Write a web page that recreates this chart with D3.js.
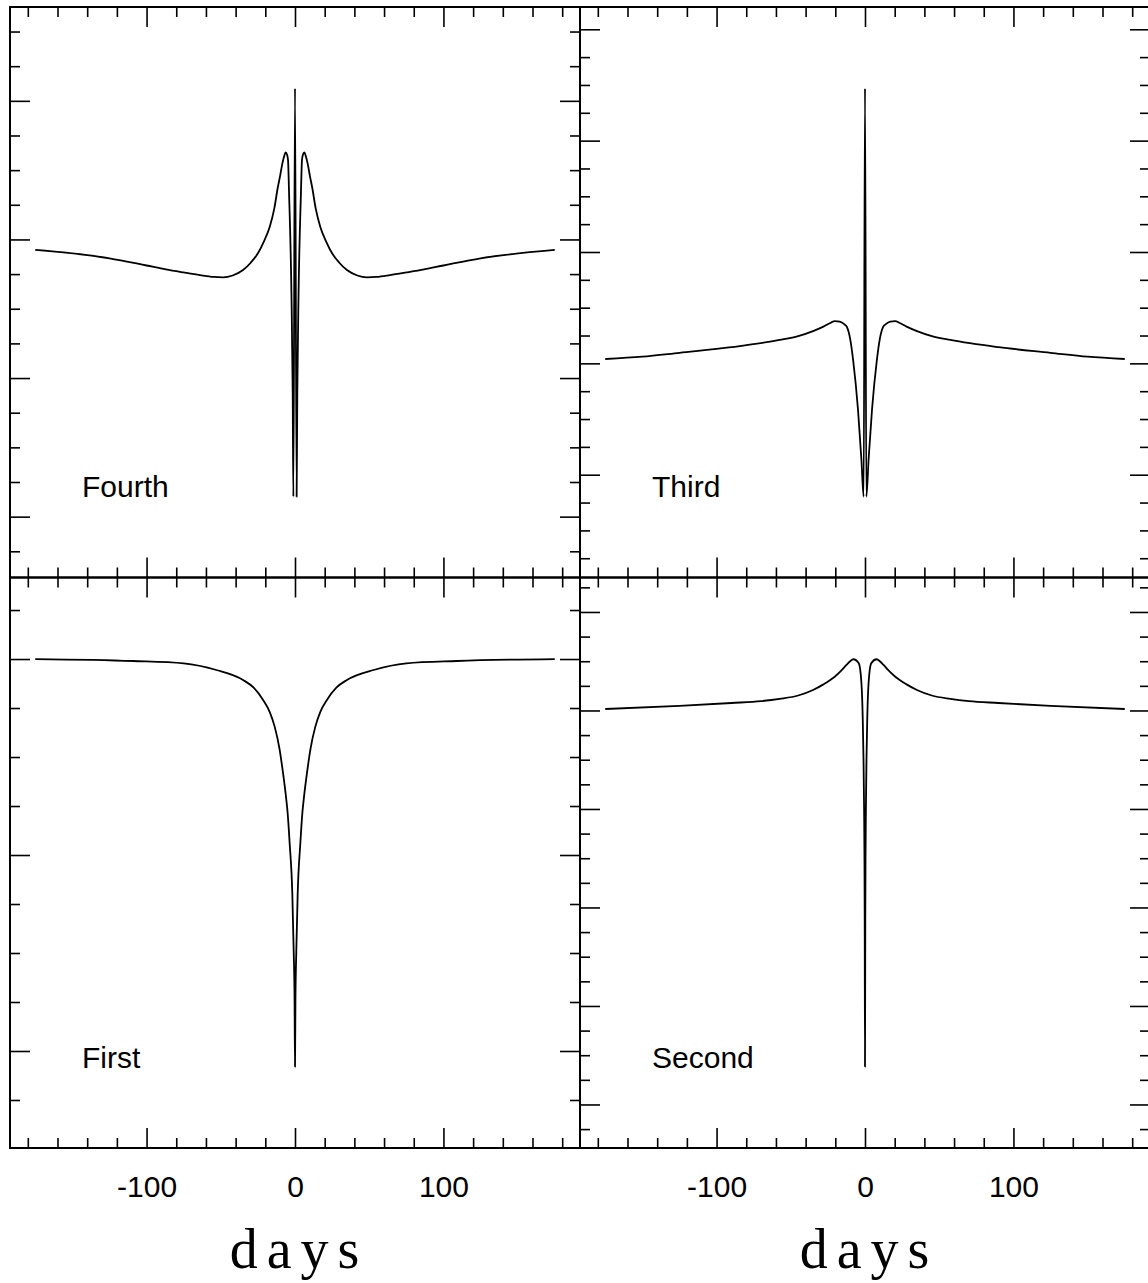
<!DOCTYPE html>
<html>
<head>
<meta charset="utf-8">
<script src="https://cdnjs.cloudflare.com/ajax/libs/d3/7.8.5/d3.min.js"></script>
<style>
body { margin: 0; background: #fff; overflow: hidden; }
svg { display: block; }
.axis path.domain { display: none; }
.axis line { stroke: #000; stroke-width: 1.6px; }
.axis text { font-family: "Liberation Sans", Arial, sans-serif; font-size: 30px; fill: #000; }
</style>
</head>
<body>
<div id="chart"></div>
<script>
// x axis (days), same for all four panels
var xDomain = [-192, 192];
var xMajor = [-100, 0, 100];
var xMinor = [-180, -160, -140, -120, -80, -60, -40, -20, 20, 40, 60, 80, 120, 140, 160, 180];

// curves: [day, value], y in arbitrary units (one major tick = 1)
var fourth = [[-175, 1.924], [-125, 1.864], [-100, 1.812], [-87, 1.784], [-75, 1.762], [-64, 1.743],
  [-55, 1.730], [-48.5, 1.727], [-42, 1.740], [-35, 1.779], [-30, 1.830], [-25, 1.900], [-21, 1.985],
  [-17, 2.092], [-14, 2.220], [-11.5, 2.380], [-10, 2.460], [-8.5, 2.549], [-7.3, 2.600], [-6.3, 2.628],
  [-5.3, 2.610], [-4.7, 2.573], [-4.0, 2.333], [-2.4, 1.611], [-1.55, 0.890], [-1.1, 0.144], [0, 3.090],
  [1.1, 0.144], [1.55, 0.890], [2.4, 1.611], [4.0, 2.333], [4.7, 2.573], [5.3, 2.610], [6.3, 2.628],
  [7.3, 2.600], [8.5, 2.549], [10, 2.460], [11.5, 2.380], [14, 2.220], [17, 2.092], [21, 1.985],
  [25, 1.900], [30, 1.830], [35, 1.779], [42, 1.740], [48.5, 1.727], [55, 1.730], [64, 1.743],
  [75, 1.762], [87, 1.784], [100, 1.812], [125, 1.864], [175, 1.924]];

var third = [[-175, 1.039], [-150, 1.060], [-125, 1.095], [-90, 1.145], [-57.5, 1.210], [-45, 1.245],
  [-35, 1.290], [-28, 1.330], [-23, 1.365], [-20.4, 1.380], [-17, 1.375], [-14, 1.352], [-12.3, 1.329],
  [-10, 1.220], [-8, 1.030], [-4.7, 0.581], [-2.4, 0.132], [-0.9, -0.198], [0, 3.470],
  [0.9, -0.198], [2.4, 0.132], [4.7, 0.581], [8, 1.030], [10, 1.220], [12.3, 1.329], [14, 1.352],
  [17, 1.375], [20.4, 1.380], [23, 1.365], [28, 1.330], [35, 1.290], [45, 1.245], [57.5, 1.210],
  [90, 1.145], [125, 1.095], [150, 1.060], [175, 1.039]];

var first = [[-175, 2.0], [-109, 1.990], [-75, 1.978], [-53, 1.944], [-35, 1.893], [-28, 1.855],
  [-21.5, 1.791], [-17, 1.729], [-13.7, 1.655], [-10.5, 1.544], [-8.1, 1.420], [-6, 1.292], [-5, 1.218],
  [-3.6, 1.060], [-1.8, 0.800], [-0.9, 0.515], [-0.3, 0.260], [0, -0.080],
  [0.3, 0.260], [0.9, 0.515], [1.8, 0.800], [3.6, 1.060], [5, 1.218], [6, 1.292], [8.1, 1.420],
  [10.5, 1.544], [13.7, 1.655], [17, 1.729], [21.5, 1.791], [28, 1.855], [35, 1.893], [53, 1.944],
  [75, 1.978], [109, 1.990], [175, 2.0]];

var second = [[-175, 4.015], [-125, 4.046], [-90, 4.076], [-70, 4.095], [-57.5, 4.118], [-45, 4.152],
  [-35, 4.208], [-28, 4.265], [-20.4, 4.343], [-16, 4.405], [-12.5, 4.462], [-10, 4.500], [-7.8, 4.520],
  [-4.2, 4.479], [-2.4, 4.276], [-1.5, 3.904], [-1.0, 3.497], [-0.6, 2.990], [-0.35, 2.482], [-0.2, 1.873],
  [0, 0.384],
  [0.2, 1.873], [0.35, 2.482], [0.6, 2.990], [1.0, 3.497], [1.5, 3.904], [2.4, 4.276], [4.2, 4.479],
  [7.8, 4.520], [10, 4.500], [12.5, 4.462], [16, 4.405], [20.4, 4.343], [28, 4.265], [35, 4.208],
  [45, 4.152], [57.5, 4.118], [70, 4.095], [90, 4.076], [125, 4.046], [175, 4.015]];

// y ranges and ticks for each panel
var fourthDomain = [-0.439, 3.677];
var fourthMajor = [0, 1, 2, 3];
var fourthMinor = [-0.25, 0.25, 0.5, 0.75, 1.25, 1.5, 1.75, 2.25, 2.5, 2.75, 3.25, 3.5];

var thirdDomain = [-0.923, 4.2];
var thirdMajor = [0, 1, 2, 3, 4];
var thirdMinor = [-0.75, -0.5, -0.25, 0.25, 0.5, 0.75, 1.25, 1.5, 1.75, 2.25, 2.5, 2.75, 3.25, 3.5, 3.75];

var firstDomain = [-0.495, 2.416];
var firstMajor = [0, 1, 2];
var firstMinor = [-0.25, 0.25, 0.5, 0.75, 1.25, 1.5, 1.75, 2.25];

var secondDomain = [-0.442, 5.35];
var secondMajor = [0, 1, 2, 3, 4, 5];
var secondMinor = [-0.25, 0.25, 0.5, 0.75, 1.25, 1.5, 1.75, 2.25, 2.5, 2.75, 3.25, 3.5, 3.75,
  4.25, 4.5, 4.75, 5.25];

var names = ["Fourth", "Third", "First", "Second"];

var width = 1148, height = 1283;
var pw = 570, ph = 570.5;
var marginLeft = 10, marginTop = 7;

var panels = [
  {name: names[0], data: fourth, dom: fourthDomain, major: fourthMajor, minor: fourthMinor, col: 0, row: 0},
  {name: names[1], data: third, dom: thirdDomain, major: thirdMajor, minor: thirdMinor, col: 1, row: 0},
  {name: names[2], data: first, dom: firstDomain, major: firstMajor, minor: firstMinor, col: 0, row: 1},
  {name: names[3], data: second, dom: secondDomain, major: secondMajor, minor: secondMinor, col: 1, row: 1}
];

var svg = d3.select("#chart").append("svg")
  .attr("width", width)
  .attr("height", height);

var x = d3.scaleLinear().domain(xDomain).range([0, pw]);

panels.forEach(function(p) {
  var g = svg.append("g")
    .attr("transform", "translate(" + (marginLeft + p.col * pw) + "," + (marginTop + p.row * ph) + ")");

  var y = d3.scaleLinear().domain(p.dom).range([ph, 0]);

  // ticks on all four sides, pointing in
  g.append("g").attr("class", "axis").call(d3.axisTop(x).tickValues(xMinor).tickSize(-10).tickFormat(""));
  g.append("g").attr("class", "axis").call(d3.axisTop(x).tickValues(xMajor).tickSize(-20).tickFormat(""));
  g.append("g").attr("class", "axis").attr("transform", "translate(0," + ph + ")")
    .call(d3.axisBottom(x).tickValues(xMinor).tickSize(-10).tickFormat(""));
  g.append("g").attr("class", "axis").attr("transform", "translate(0," + ph + ")")
    .call(d3.axisBottom(x).tickValues(xMajor).tickSize(-20).tickPadding(28)
      .tickFormat(p.row == 1 ? function(d) { return String(d); } : ""));

  g.append("g").attr("class", "axis").call(d3.axisLeft(y).tickValues(p.minor).tickSize(-10).tickFormat(""));
  g.append("g").attr("class", "axis").call(d3.axisLeft(y).tickValues(p.major).tickSize(-20).tickFormat(""));
  g.append("g").attr("class", "axis").attr("transform", "translate(" + pw + ",0)")
    .call(d3.axisRight(y).tickValues(p.minor).tickSize(-10).tickFormat(""));
  g.append("g").attr("class", "axis").attr("transform", "translate(" + pw + ",0)")
    .call(d3.axisRight(y).tickValues(p.major).tickSize(-20).tickFormat(""));

  g.append("rect")
    .attr("width", pw)
    .attr("height", ph)
    .attr("fill", "none")
    .attr("stroke", "black")
    .attr("stroke-width", 2);

  var line = d3.line()
    .curve(d3.curveMonotoneX)
    .x(function(d) { return x(d[0]); })
    .y(function(d) { return y(d[1]); });

  g.append("path")
    .attr("d", line(p.data))
    .attr("fill", "none")
    .attr("stroke", "black")
    .attr("stroke-width", 1.8)
    .attr("stroke-linejoin", "round");

  g.append("text")
    .attr("x", 72)
    .attr("y", 490)
    .attr("font-family", "Liberation Sans, Arial, sans-serif")
    .attr("font-size", "30px")
    .text(p.name);

  if (p.row == 1) {
    g.append("text")
      .attr("x", x(0) + 4)
      .attr("y", ph + 120)
      .attr("text-anchor", "middle")
      .attr("font-family", "Liberation Serif, Times New Roman, serif")
      .attr("font-size", "56px")
      .attr("letter-spacing", "9px")
      .text("days");
  }
});
</script>
</body>
</html>
